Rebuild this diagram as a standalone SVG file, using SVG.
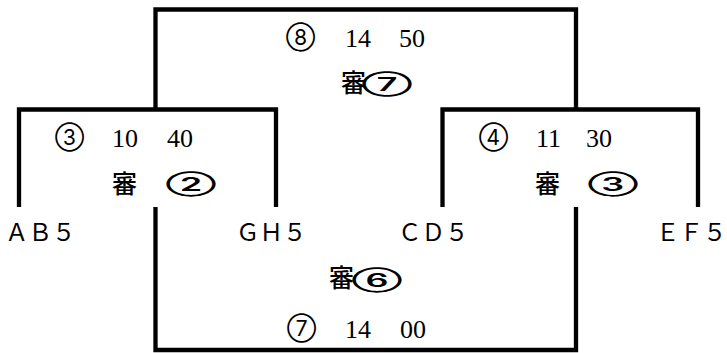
<svg xmlns="http://www.w3.org/2000/svg" width="727" height="353" viewBox="0 0 727 353">
<style>
.ln{fill:none;stroke:#000;stroke-width:4.3;stroke-linejoin:miter;stroke-linecap:butt}
.c{font-family:Inter,"Noto Sans CJK JP",sans-serif;font-size:21px;fill:#000}
.ce{font-family:Inter,"Noto Sans CJK JP",sans-serif;font-size:18px;fill:#000;font-weight:600}
.n{font-family:"Liberation Serif","DejaVu Serif",serif;font-size:26px;fill:#000}
.k{font-family:"Noto Sans CJK JP",sans-serif;font-size:25px;fill:#000;font-weight:500}
.t{font-family:"Noto Sans CJK JP","Liberation Sans",sans-serif;font-size:23.5px;fill:#000}
</style>
<rect width="727" height="353" fill="#fff"/>
<g id="connectors">
<path class="ln" d="M155.5,109.5 V9.5 H576 V109.5"/>
<path class="ln" d="M19,207 V109.5 H276 V207"/>
<path class="ln" d="M442.5,207 V109.5 H698 V207"/>
<path class="ln" d="M155.5,207 V350 H576 V207"/>
</g>
<g id="match8">
<text class="c" x="286" y="44.5">⑧</text>
<text class="n" x="345" y="47">14</text>
<text class="n" x="399" y="47">50</text>
<text class="k" x="341" y="92">審</text>
<text class="ce" transform="translate(362,90.5) scale(2,1)">⑦</text>
</g>
<g id="match3">
<text class="c" x="55" y="144.5">③</text>
<text class="n" x="112" y="147">10</text>
<text class="n" x="167" y="147">40</text>
<text class="k" x="112" y="193">審</text>
<text class="ce" transform="translate(166,191) scale(2,1)">②</text>
</g>
<g id="match4">
<text class="c" x="479" y="144.5">④</text>
<text class="n" x="536" y="147">11</text>
<text class="n" x="586" y="147">30</text>
<text class="k" x="535" y="193">審</text>
<text class="ce" transform="translate(588,191) scale(2,1)">③</text>
</g>
<g id="match7">
<text class="k" x="329" y="287">審</text>
<text class="ce" transform="translate(352,287) scale(2,1)">⑥</text>
<text class="c" x="287" y="335.5">⑦</text>
<text class="n" x="345" y="338">14</text>
<text class="n" x="400" y="338">00</text>
</g>
<g id="team-ab5"><text class="t" x="5" y="241">ＡＢ５</text></g>
<g id="team-gh5"><text class="t" x="236" y="241">ＧＨ５</text></g>
<g id="team-cd5"><text class="t" x="398" y="241">ＣＤ５</text></g>
<g id="team-ef5"><text class="t" x="656" y="241">ＥＦ５</text></g>
</svg>
